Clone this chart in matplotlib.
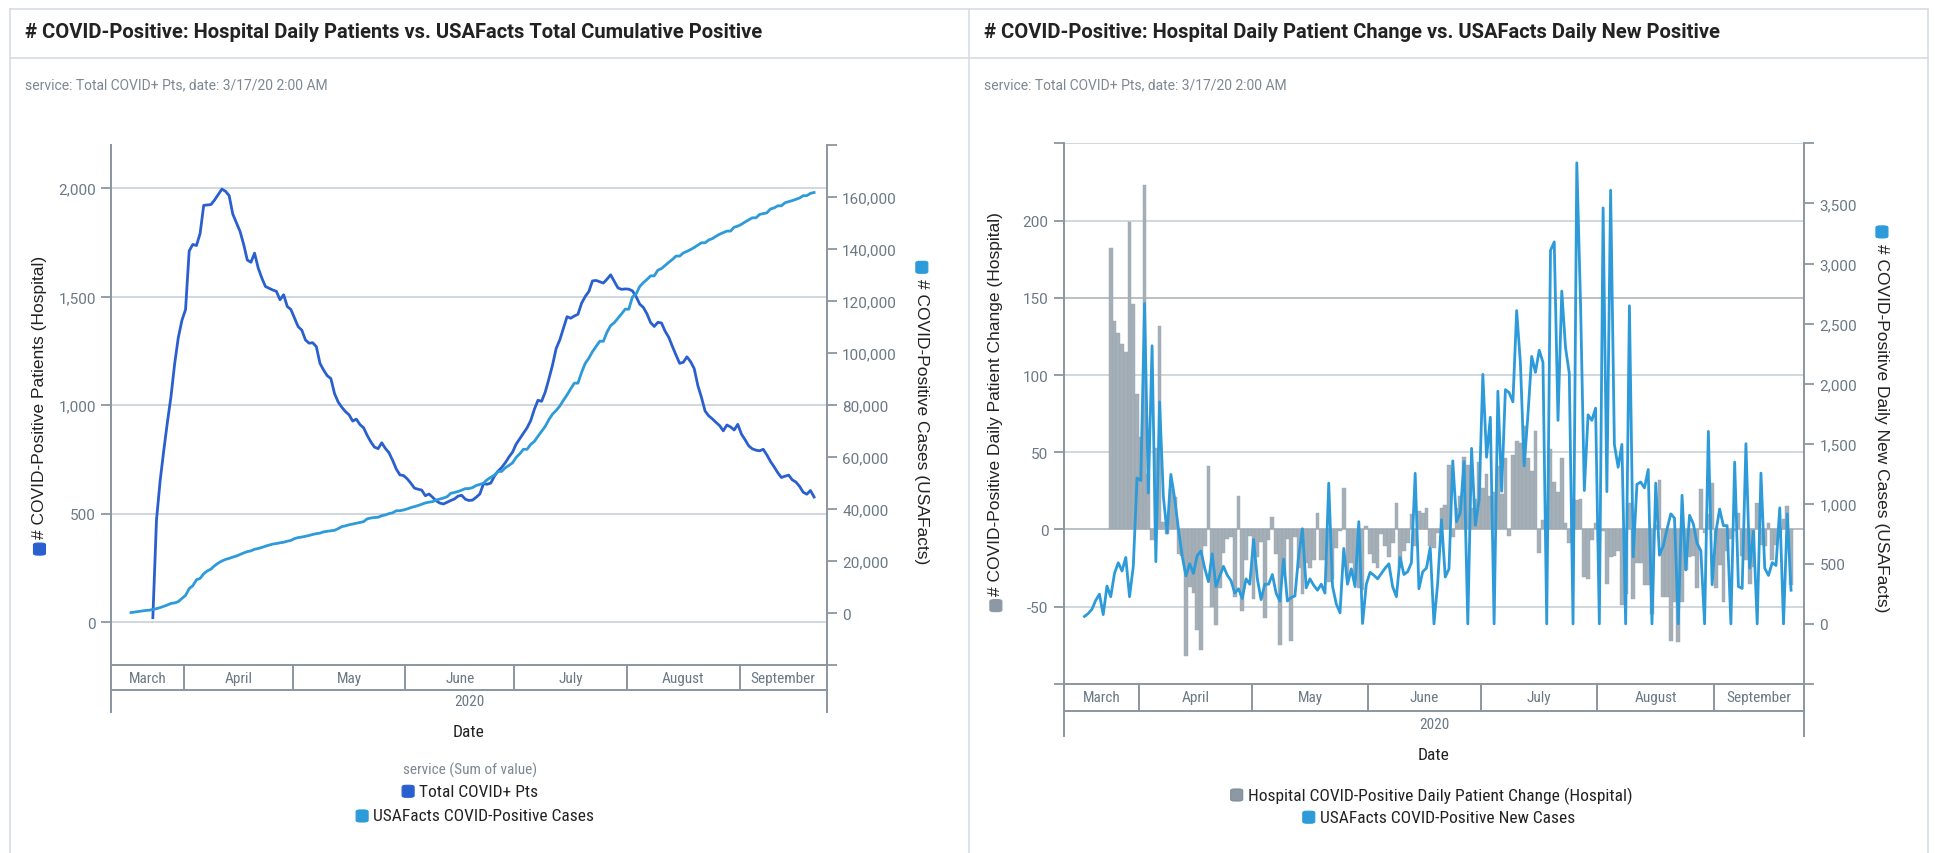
import matplotlib
matplotlib.use('Agg')
import matplotlib.pyplot as plt
import matplotlib.dates as mdates
import matplotlib.transforms as mtransforms
from matplotlib.patches import FancyBboxPatch
from matplotlib.lines import Line2D
from matplotlib.ticker import FixedLocator, FuncFormatter
from matplotlib import font_manager
import pandas as pd


def pick(fams):
    for f in fams:
        try:
            font_manager.findfont(font_manager.FontProperties(family=f), fallback_to_default=False)
            return f
        except Exception:
            pass
    return 'DejaVu Sans'


NARROW = pick(['Liberation Sans Narrow', 'Roboto Condensed', 'Roboto'])
WIDE = pick(['Roboto', 'Liberation Sans'])
SANS = pick(['Liberation Sans', 'Arial', 'DejaVu Sans'])

# ---------------- data ----------------
months = ['March', 'April', 'May', 'June', 'July', 'August', 'September']
year_label = '2020'

hosp_start = '2020-03-23'
hosp_total = [
    20, 470, 650, 790, 920, 1040, 1190, 1310, 1390, 1440,
    1710, 1740, 1735, 1790, 1920, 1922, 1924, 1945, 1970, 1995,
    1985, 1965, 1880, 1840, 1800, 1740, 1668, 1658, 1700, 1631,
    1585, 1546, 1538, 1530, 1524, 1485, 1508, 1454, 1440, 1400,
    1361, 1345, 1300, 1285, 1287, 1269, 1192, 1161, 1135, 1122,
    1053, 1014, 990, 970, 955, 926, 935, 910, 895, 860,
    830, 806, 799, 826, 800, 780, 745, 705, 678, 675,
    660, 640, 617, 612, 608, 582, 590, 575, 558, 548,
    544, 552, 560, 567, 580, 584, 566, 560, 562, 575,
    590, 637, 635, 640, 672, 695, 712, 734, 760, 783,
    820, 845, 870, 895, 928, 980, 1022, 1017, 1060, 1120,
    1184, 1260, 1300, 1353, 1407, 1400, 1410, 1418, 1469, 1500,
    1523, 1572, 1574, 1568, 1562, 1580, 1600, 1570, 1540, 1533,
    1535, 1534, 1526, 1500, 1465, 1450, 1420, 1380, 1362, 1381,
    1378, 1340, 1312, 1270, 1230, 1192, 1197, 1222, 1200, 1168,
    1090, 1035, 972, 950, 936, 920, 905, 881, 908, 899,
    885, 911, 866, 840, 812, 798, 792, 789, 796, 770,
    740, 715, 688, 666, 672, 677, 655, 645, 625, 598,
    589, 606, 576,
]

usa_start = '2020-03-17'
usa_cum = [
    300, 500, 700, 900, 1100, 1200, 1500, 1800, 2200, 2700,
    3200, 3800, 4000, 4500, 5700, 6900, 9500, 10600, 12900, 13400,
    15200, 16300, 17000, 18300, 19300, 20100, 20700, 21100, 21600, 22000,
    22600, 23200, 23700, 24000, 24600, 24900, 25300, 25800, 26200, 26600,
    26800, 27100, 27300, 27700, 28000, 28700, 29100, 29300, 29600, 29900,
    30300, 30600, 30800, 31300, 31500, 31700, 31900, 32500, 33300, 33600,
    34000, 34300, 34600, 34900, 35200, 36300, 36600, 36800, 36900, 37500,
    37800, 38300, 38600, 39400, 39400, 39700, 40100, 40600, 41000, 41400,
    41900, 42400, 42700, 42900, 43500, 43900, 44300, 44800, 46100, 46400,
    46800, 47300, 47900, 47900, 48300, 49100, 49500, 50000, 51300, 52200,
    53100, 54500, 54500, 55900, 56800, 57800, 59900, 61300, 63000, 63000,
    64900, 66000, 68000, 69900, 71800, 74400, 76500, 77900, 79600, 81800,
    83900, 86200, 88400, 88400, 92500, 96000, 98000, 100500, 102500, 104500,
    104500, 108000, 110500, 111600, 113300, 115000, 116800, 116800, 121500, 122600,
    125500, 127000, 128200, 129600, 129600, 131800, 132400, 133600, 134800, 135900,
    137200, 137200, 138400, 139000, 139700, 140500, 141400, 142300, 142300, 143400,
    143900, 144800, 145600, 146200, 146800, 146800, 148300, 148700, 149400, 150300,
    151100, 151900, 151900, 153200, 153500, 153800, 155300, 155700, 156500, 156500,
    157700, 158100, 158500, 159000, 159500, 160400, 160400, 161300, 161600,
]

change_start = '2020-03-24'
hosp_change = [
    182, 135, 127, 120, 115, 199, 146, 88, 60, 223,
    36, -7, 53, 132, 5, -3, 26, 21, -16, -17,
    -82, -37, -41, -65, -78, -11, 41, -50, -62, -38,
    -15, -6, -5, -44, 22, -53, -20, -4, -45, -18,
    -8, -57, -7, 8, -16, -75, -28, -6, -72, -5,
    -25, -42,
    -22, -25, -20, 11, -20, -20, -34, -32, -12, -1,
    27, -32, -22, -33, -38, -39, 2, -16, -22, -25,
    -3, -11, -18, -9, 17, -25, -14, -9, 10, -11,
    12, 11, 14, -11, -12, -2, 14, 16, 42, -5,
    14, 22, 47, 42, 14, 20, 44, 27, 36, 22,
    24, 41, 23, 46, -4, 48, 57, 56, 67, 46,
    38, 64, -15, 6, 15, 52, 31, 24, 46,
    4, -9, 20, 19, 20, -31, -32, -7, 4, -8,
    -1, -35, -18, -17, -14, -49, -42, 17, -45, -22,
    -22, -36, -36, -55, 3, 32, -44, -44, -72, -47,
    -73, -47, -26, -18, -17, -38, 26, -2, 10, 30,
    -38, -23, -47, -14, -6, -1, 11, -17, -20, -35,
    -24, 17, -10, -11, 4, -20, -10, -2, 7, 15,
    -36,
]

usa_new = [
    62, 86, 122, 196, 247, 77, 315, 226, 420, 509,
    440, 553, 226, 479, 1214, 1193, 2667, 1089, 2315, 518,
    1848, 1059, 756, 1244, 1045, 792, 568, 399, 500, 420,
    568, 607, 464, 351, 583, 310, 399, 479, 405, 360,
    256, 292, 211, 375, 330, 702, 375, 202, 330, 330,
    411, 256, 190, 539, 190, 220, 232, 568, 792, 300,
    375, 321, 280, 330, 256, 1172, 315, 167, 92, 628,
    330, 458, 310, 851, 3, 330, 429, 405, 375, 420,
    464, 500, 310, 226, 553, 411, 434, 509, 1253, 292,
    434, 464, 637, 0, 345, 866, 390, 458, 1357, 851,
    925, 1351, 0, 1461, 821, 1030, 2077, 1387, 1720, 0,
    1937, 1104,
    1950, 1925, 1848, 2608, 2171, 1316, 1740, 2226, 2094, 2278,
    2177, 0, 3109, 3180, 1694, 2770, 2300, 2085, 0, 3838,
    2663, 1110, 1740, 1694, 1796, 0, 3463, 1101, 3610, 1494,
    1304, 1494, 0, 2648, 557, 1162, 1181, 1132, 1285, 0,
    1172, 572, 649, 787, 916, 880, 0, 1070, 449, 904,
    833, 670, 609, 0, 1602, 326, 763, 956, 818, 818,
    0, 1347, 311, 295, 1500, 464, 772, 0, 1255, 464,
    403, 510, 486, 966, 0, 916, 280,
]

# ---------------- style ----------------
DARK = '#2a5fcf'
LIGHT = '#2d9ad9'
BAR = '#a4afb8'
BAR_EDGE = '#98a4ae'
GRID = '#cdd6dc'
GRID_DARK = '#b3bbc1'
AXC = '#8a96a0'
TICKC = '#6b7885'
BORDER = '#d5dde3'
TXT = '#222222'

W_P, H_P = 1568.0, 692.0


def fx(x):
    return x / W_P


def fy(y):
    return 1 - y / H_P


fig = plt.figure(figsize=(19.35, 8.54), dpi=100)
FW, FH = 1935.0, 854.0

# card borders
for (x0, y0, x1, y1) in [(8, 8, 1562, 8), (8, 8, 8, 692), (785, 8, 785, 692),
                         (1562, 8, 1562, 692), (8, 48, 1562, 48)]:
    fig.add_artist(Line2D([fx(x0), fx(x1)], [fy(y0), fy(y1)], color=BORDER, lw=1.2,
                          transform=fig.transFigure))

fig.text(fx(20), fy(26), '# COVID-Positive: Hospital Daily Patients vs. USAFacts Total Cumulative Positive',
         ha='left', va='center', fontsize=14.5, family=WIDE, weight='bold', color=TXT)
fig.text(fx(797), fy(26), '# COVID-Positive: Hospital Daily Patient Change vs. USAFacts Daily New Positive',
         ha='left', va='center', fontsize=14.5, family=WIDE, weight='bold', color=TXT)
fig.text(fx(20), fy(69), 'service: Total COVID+ Pts, date: 3/17/20 2:00 AM',
         ha='left', va='center', fontsize=10, family=WIDE, color='#7d8892')
fig.text(fx(797), fy(69), 'service: Total COVID+ Pts, date: 3/17/20 2:00 AM',
         ha='left', va='center', fontsize=10, family=WIDE, color='#7d8892')

xmin = mdates.date2num(pd.Timestamp('2020-03-12'))
xmax = mdates.date2num(pd.Timestamp('2020-09-25'))

hosp_dates = pd.date_range(hosp_start, periods=len(hosp_total)) + pd.Timedelta(hours=12)
usa_dates = pd.date_range(usa_start, periods=len(usa_cum)) + pd.Timedelta(hours=12)
change_dates = pd.date_range(change_start, periods=len(hosp_change))
new_dates = pd.date_range(usa_start, periods=len(usa_new)) + pd.Timedelta(hours=12)


def style_axis(ax):
    ax.spines['top'].set_visible(False)
    for s in ['left', 'right', 'bottom']:
        ax.spines[s].set_color(AXC)
        ax.spines[s].set_linewidth(1.4)
    ax.tick_params(axis='y', colors=AXC, labelcolor=TICKC, length=7, width=1.3,
                   labelsize=11, pad=4)
    for lab in ax.get_yticklabels():
        lab.set_family(WIDE)


def blank_ends(lo, hi):
    def f(v, pos):
        if v <= lo or v >= hi:
            return ''
        return '{:,.0f}'.format(v)
    return FuncFormatter(f)


def month_table(ax, row_h, year_h, year_y, date_y):
    trans = mtransforms.blended_transform_factory(ax.transData, ax.transAxes)
    x0, x1 = ax.get_xlim()
    bounds = [x0] + [mdates.date2num(pd.Timestamp('2020-%02d-01' % m)) for m in range(4, 10)] + [x1]
    for b in bounds:
        ax.add_artist(Line2D([b, b], [0, -row_h], transform=trans, color=AXC, lw=1.4, clip_on=False))
    ax.add_artist(Line2D([x0, x1], [-row_h, -row_h], transform=trans, color=AXC, lw=1.4, clip_on=False))
    for b in (x0, x1):
        ax.add_artist(Line2D([b, b], [-row_h, -year_h], transform=trans, color=AXC, lw=1.4, clip_on=False))
    for i, name in enumerate(months):
        ax.text((bounds[i] + bounds[i + 1]) / 2, -row_h / 2, name, transform=trans, ha='center',
                va='center', fontsize=11, family=NARROW, color=TICKC, clip_on=False)
    ax.text((x0 + x1) / 2, year_y, year_label, transform=trans, ha='center', va='center',
            fontsize=11, family=NARROW, color=TICKC, clip_on=False)
    ax.text((x0 + x1) / 2, date_y, 'Date', transform=trans, ha='center', va='center',
            fontsize=12.5, family=NARROW, color=TXT, clip_on=False)


# ---------------- left chart ----------------
axL = fig.add_axes([fx(90), fy(540), fx(670) - fx(90), fy(118) - fy(540)])
axL.plot(hosp_dates, hosp_total, color=DARK, lw=2.0, solid_joinstyle='round', zorder=3)
axL.set_xlim(xmin, xmax)
axL.set_ylim(-200, 2200)
axL.yaxis.set_major_locator(FixedLocator([0, 500, 1000, 1500, 2000]))
axL.yaxis.set_major_formatter(FuncFormatter(lambda v, p: '{:,.0f}'.format(v)))
axL.grid(axis='y', color=GRID, lw=1.3)
axL.set_axisbelow(True)
axL.set_xticks([])
style_axis(axL)
axL.spines['right'].set_visible(False)

axL2 = axL.twinx()
axL2.plot(usa_dates, usa_cum, color=LIGHT, lw=2.0, solid_joinstyle='round')
axL2.set_ylim(-20000, 180000)
axL2.yaxis.set_major_locator(FixedLocator(list(range(-20000, 180001, 20000))))
axL2.yaxis.set_major_formatter(blank_ends(-20000, 180000))
axL2.set_xlim(xmin, xmax)
axL2.set_xticks([])
style_axis(axL2)
axL2.spines['left'].set_visible(False)
axL2.spines['bottom'].set_visible(False)

month_table(axL, 0.047, 0.090, -0.068, -0.127)

# ---------------- right chart ----------------
axR = fig.add_axes([fx(862), fy(555), fx(1462) - fx(862), fy(117) - fy(555)])
axR.bar(change_dates, hosp_change, width=1.0, align='edge', color=BAR, edgecolor=BAR_EDGE,
        linewidth=0.3, zorder=2)
axR.set_xlim(xmin, xmax)
axR.set_ylim(-100, 250)
axR.yaxis.set_major_locator(FixedLocator(list(range(-100, 251, 50))))
axR.yaxis.set_major_formatter(blank_ends(-100, 250))
axR.grid(axis='y', color=GRID, lw=1.3)
axR.set_axisbelow(True)
axR.set_xticks([])
style_axis(axR)
axR.spines['right'].set_visible(False)
for v, t in zip(range(-100, 251, 50), axR.yaxis.get_major_ticks()):
    if v in (0, 150):
        t.gridline.set_color(GRID_DARK)
    if v == -100:
        t.gridline.set_visible(False)

axR2 = axR.twinx()
axR2.plot(new_dates, usa_new, color=LIGHT, lw=2.0, solid_joinstyle='round')
axR2.set_ylim(-500, 4000)
axR2.yaxis.set_major_locator(FixedLocator(list(range(-500, 4001, 500))))
axR2.yaxis.set_major_formatter(blank_ends(-500, 4000))
axR2.set_xlim(xmin, xmax)
axR2.set_xticks([])
style_axis(axR2)
axR2.spines['left'].set_visible(False)
axR2.spines['bottom'].set_visible(False)

month_table(axR, 0.050, 0.096, -0.075, -0.131)

# ---------------- labels with squares ----------------
SQ = 12.0
GAP = 5.0


def add_square(cx, cy, color, edge=None):
    fig.add_artist(FancyBboxPatch(((cx - SQ / 2) / FW, (cy - SQ / 2) / FH), SQ / FW, SQ / FH,
                                  boxstyle='round,pad=0,rounding_size=0.002',
                                  transform=fig.transFigure, facecolor=color,
                                  edgecolor=edge if edge else color, lw=0.8))


def ylabel_sq(xc, yc, text, color, rot, edge=None):
    t = fig.text(fx(xc), fy(yc), text, rotation=rot, ha='center', va='center',
                 fontsize=12.5, family=SANS, color=TXT)
    fig.canvas.draw()
    bb = t.get_window_extent()
    th = bb.height
    cy = fy(yc) * FH
    cx = fx(xc) * FW
    H = th + GAP + SQ
    if rot == 90:
        text_cy = cy + (SQ + GAP) / 2
        sq_cy = cy - H / 2 + SQ / 2
    else:
        text_cy = cy - (SQ + GAP) / 2
        sq_cy = cy + H / 2 - SQ / 2
    t.set_position((cx / FW, text_cy / FH))
    add_square(cx, sq_cy, color, edge)


def legend_row(xc, yc, text, color, edge=None):
    t = fig.text(0, fy(yc), text, ha='left', va='center', fontsize=12.5, family=NARROW, color=TXT)
    fig.canvas.draw()
    tw = t.get_window_extent().width
    cx = fx(xc) * FW
    Wd = SQ + GAP + tw
    left = cx - Wd / 2
    t.set_position(((left + SQ + GAP) / FW, fy(yc)))
    add_square(left + SQ / 2, fy(yc) * FH, color, edge)


ylabel_sq(32, 329, '# COVID-Positive Patients (Hospital)', DARK, 90)
ylabel_sq(747, 335, '# COVID-Positive Cases (USAFacts)', LIGHT, 270)
ylabel_sq(807, 334, '# COVID-Positive Daily Patient Change (Hospital)', '#8c98a3', 90)
ylabel_sq(1525, 340, '# COVID-Positive Daily New Cases (USAFacts)', LIGHT, 270)

fig.text(fx(381), fy(624), 'service (Sum of value)', ha='center', va='center', fontsize=11,
         family=NARROW, color='#7d8892')
legend_row(381, 642, 'Total COVID+ Pts', DARK)
legend_row(385, 662, 'USAFacts COVID-Positive Cases', LIGHT)
legend_row(1160, 645, 'Hospital COVID-Positive Daily Patient Change (Hospital)', '#8c98a3', '#7f8b96')
legend_row(1166, 663, 'USAFacts COVID-Positive New Cases', LIGHT)

fig.savefig('out.png', dpi=100, facecolor='white')
